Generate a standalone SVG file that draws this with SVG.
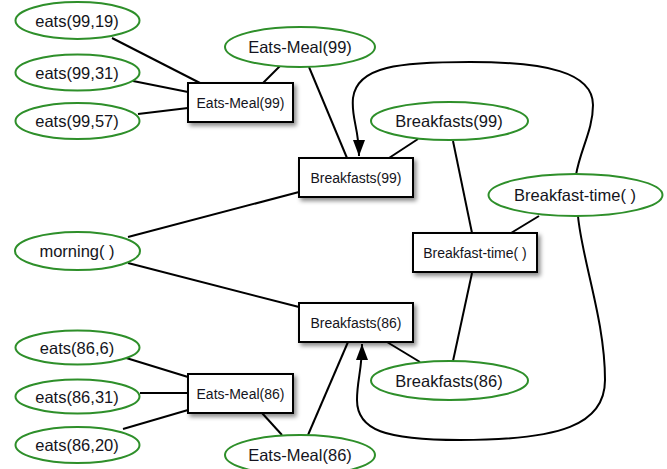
<svg xmlns="http://www.w3.org/2000/svg" width="667" height="469" viewBox="0 0 667 469">
<style>
.ell{fill:#fff;stroke:#2e8f2a;stroke-width:2}
.box{fill:#fff;stroke:#000;stroke-width:2;filter:url(#sh)}
.et{font-family:"Liberation Sans",Arial,sans-serif;font-size:16.5px;fill:#141420;text-anchor:middle;dominant-baseline:central}
.bt{font-family:"Liberation Sans",Arial,sans-serif;font-size:14px;fill:#141420;text-anchor:middle;dominant-baseline:central}
.ln{fill:none;stroke:#000;stroke-width:2}
</style>
<defs>
<filter id="sh" x="-20%" y="-30%" width="150%" height="170%">
<feDropShadow dx="2.5" dy="3" stdDeviation="2" flood-color="#000" flood-opacity="0.45"/>
</filter>
<marker id="ah2" viewBox="0 0 16 12" refX="16" refY="6" markerWidth="16" markerHeight="12" markerUnits="userSpaceOnUse" orient="auto">
<path d="M0,0 L16,6 L0,12 z" fill="#000"/>
</marker>
</defs>
<rect width="667" height="469" fill="#fff"/>
<g id="connectors">
<line class="ln" x1="112" y1="38" x2="200" y2="83"/>
<line class="ln" x1="133" y1="81" x2="188" y2="92"/>
<line class="ln" x1="138" y1="114" x2="188" y2="108"/>
<line class="ln" x1="280" y1="66" x2="263" y2="83"/>
<line class="ln" x1="309" y1="67" x2="347" y2="158"/>
<line class="ln" x1="418" y1="139" x2="389" y2="158"/>
<line class="ln" x1="453" y1="141" x2="472" y2="233"/>
<line class="ln" x1="539" y1="216" x2="511" y2="233"/>
<line class="ln" x1="472" y1="273" x2="453" y2="361"/>
<line class="ln" x1="128" y1="237" x2="299" y2="192"/>
<line class="ln" x1="128" y1="263" x2="299" y2="307"/>
<line class="ln" x1="387" y1="342" x2="420" y2="362"/>
<line class="ln" x1="308" y1="435" x2="348" y2="342"/>
<line class="ln" x1="123" y1="357" x2="188" y2="377"/>
<line class="ln" x1="140" y1="393" x2="188" y2="393"/>
<line class="ln" x1="123" y1="429" x2="188" y2="410"/>
<line class="ln" x1="262" y1="413" x2="282" y2="435"/>
<path class="ln" d="M576,175 C580,150 593,130 593,105 C593,72 545,62 470,62 C400,62 357,66 353,98 C351,118 359,128 359,156" marker-end="url(#ah2)"/>
<path class="ln" d="M578,216 C582,260 605,320 605,380 C605,425 560,440 460,440 C385,440 357,430 357,400 C357,380 362,370 362,344" marker-end="url(#ah2)"/>
</g>
<g id="eats9919"><ellipse class="ell" cx="77.5" cy="20.5" rx="62" ry="18.5"/><text class="et" x="77" y="21">eats(99,19)</text></g>
<g id="eats9931"><ellipse class="ell" cx="77.5" cy="72.5" rx="62" ry="18"/><text class="et" x="77" y="73">eats(99,31)</text></g>
<g id="eats9957"><ellipse class="ell" cx="77.5" cy="121" rx="62" ry="18"/><text class="et" x="77" y="121">eats(99,57)</text></g>
<g id="eatsmeal99e"><ellipse class="ell" cx="300" cy="47" rx="75" ry="20"/><text class="et" x="300" y="47">Eats-Meal(99)</text></g>
<g id="eatsmeal99b"><rect class="box" x="188" y="83" width="105" height="39"/><text class="bt" x="240.5" y="102.5">Eats-Meal(99)</text></g>
<g id="breakfasts99b"><rect class="box" x="299" y="158" width="114" height="39"/><text class="bt" x="356" y="177.5">Breakfasts(99)</text></g>
<g id="breakfasts99e"><ellipse class="ell" cx="449.5" cy="121" rx="78.5" ry="19"/><text class="et" x="449" y="121">Breakfasts(99)</text></g>
<g id="bftimee"><ellipse class="ell" cx="575.5" cy="195" rx="87" ry="21"/><text class="et" x="575" y="195">Breakfast-time( )</text></g>
<g id="bftimeb"><rect class="box" x="413" y="233" width="124" height="39"/><text class="bt" x="475" y="252.5">Breakfast-time( )</text></g>
<g id="morning"><ellipse class="ell" cx="77.5" cy="251" rx="62.5" ry="19"/><text class="et" x="77" y="251">morning( )</text></g>
<g id="breakfasts86b"><rect class="box" x="299" y="303" width="114" height="39"/><text class="bt" x="356" y="322.5">Breakfasts(86)</text></g>
<g id="breakfasts86e"><ellipse class="ell" cx="449.5" cy="380.5" rx="78.5" ry="19.5"/><text class="et" x="449" y="381">Breakfasts(86)</text></g>
<g id="eats866"><ellipse class="ell" cx="77.5" cy="347.5" rx="62" ry="17"/><text class="et" x="77" y="348">eats(86,6)</text></g>
<g id="eats8631"><ellipse class="ell" cx="77.5" cy="396.5" rx="62" ry="17"/><text class="et" x="77" y="397">eats(86,31)</text></g>
<g id="eats8620"><ellipse class="ell" cx="77.5" cy="445" rx="62" ry="18"/><text class="et" x="77" y="445">eats(86,20)</text></g>
<g id="eatsmeal86b"><rect class="box" x="188" y="374" width="105" height="39"/><text class="bt" x="240.5" y="393.5">Eats-Meal(86)</text></g>
<g id="eatsmeal86e"><ellipse class="ell" cx="300" cy="455" rx="75" ry="20"/><text class="et" x="300" y="455">Eats-Meal(86)</text></g>
</svg>
